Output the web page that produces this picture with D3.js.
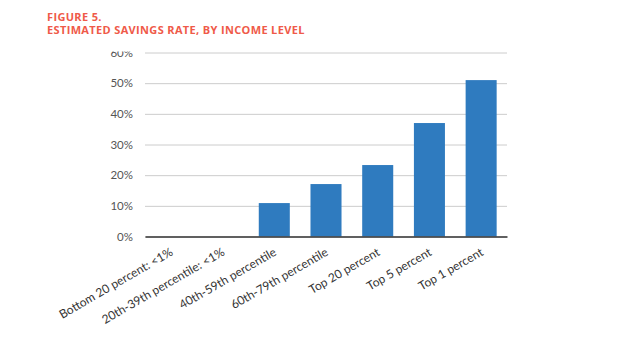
<!DOCTYPE html>
<html>
<head>
<meta charset="utf-8">
<script src="https://cdn.jsdelivr.net/npm/d3@7"></script>
<style>
  body { margin: 0; background: #fff; }
  svg { display: block; }
  .title { font-family: "Open Sans", Lato, sans-serif; font-weight: 700; font-size: 11px; letter-spacing: 0.35px; fill: #ef5a49; }
  .y-axis text { font-family: Lato, "Open Sans", sans-serif; font-size: 11.5px; fill: #555; }
  .x-axis text { font-family: Lato, "Open Sans", sans-serif; font-size: 12px; fill: #333; }
</style>
</head>
<body>
<script>
// chart data
const categories = [
    "Bottom 20 percent: <1%",
    "20th-39th percentile: <1%",
    "40th-59th percentile",
    "60th-79th percentile",
    "Top 20 percent",
    "Top 5 percent",
    "Top 1 percent"
];
const savingsRate = [0, 0, 10.9, 17.1, 23.3, 37.0, 51.0];
const yTicks = [0, 10, 20, 30, 40, 50, 60];
const titleLines = ["FIGURE 5.", "ESTIMATED SAVINGS RATE, BY INCOME LEVEL"];

const SCREEN = { width: 624, height: 354 };
const PLOT = { left: 145, right: 507, top: 52.5, bottom: 236.5 };

const svg = d3.select("body").append("svg")
    .attr("width", SCREEN.width)
    .attr("height", SCREEN.height);

// title
svg.append("g")
    .selectAll("text")
    .data(titleLines)
    .join("text")
    .attr("class", "title")
    .attr("x", 47)
    .attr("y", (d, i) => 20.5 + i * 13.5)
    .text(d => d);

const x = d3.scaleBand()
    .domain(categories)
    .range([PLOT.left, PLOT.right])
    .paddingInner(0.4)
    .paddingOuter(0.2);

const y = d3.scaleLinear()
    .domain([0, 60])
    .range([PLOT.bottom, PLOT.top]);

// clip so the top tick label is cut like the original
svg.append("clipPath").attr("id", "yclip")
    .append("rect")
    .attr("x", -PLOT.left).attr("y", 51.5)
    .attr("width", SCREEN.width).attr("height", SCREEN.height);

// y axis + gridlines
const yAxisG = svg.append("g")
    .attr("class", "y-axis")
    .attr("clip-path", "url(#yclip)")
    .attr("transform", `translate(${PLOT.left},0)`)
    .call(d3.axisLeft(y).tickValues(yTicks).tickFormat(d => d + "%").tickSize(0).tickPadding(12));
yAxisG.select(".domain").remove();
yAxisG.selectAll(".tick line")
    .attr("x2", PLOT.right - PLOT.left)
    .attr("stroke", "#cccccc")
    .attr("stroke-width", 1);

// bars
svg.append("g")
    .selectAll("rect")
    .data(savingsRate)
    .join("rect")
    .attr("x", (d, i) => x(categories[i]))
    .attr("y", d => y(d))
    .attr("width", x.bandwidth())
    .attr("height", d => y(0) - y(d))
    .attr("fill", "#2f7bbf");

// x axis
const xAxisG = svg.append("g")
    .attr("class", "x-axis")
    .attr("transform", `translate(0,${PLOT.bottom})`)
    .call(d3.axisBottom(x).tickSize(0).tickPadding(0));
xAxisG.select(".domain")
    .attr("stroke", "#333")
    .attr("stroke-width", 1.5);
xAxisG.selectAll(".tick text")
    .attr("text-anchor", "end")
    .attr("dy", 0)
    .attr("y", 0)
    .attr("transform", "translate(3,18) rotate(-30)");
</script>
</body>
</html>
